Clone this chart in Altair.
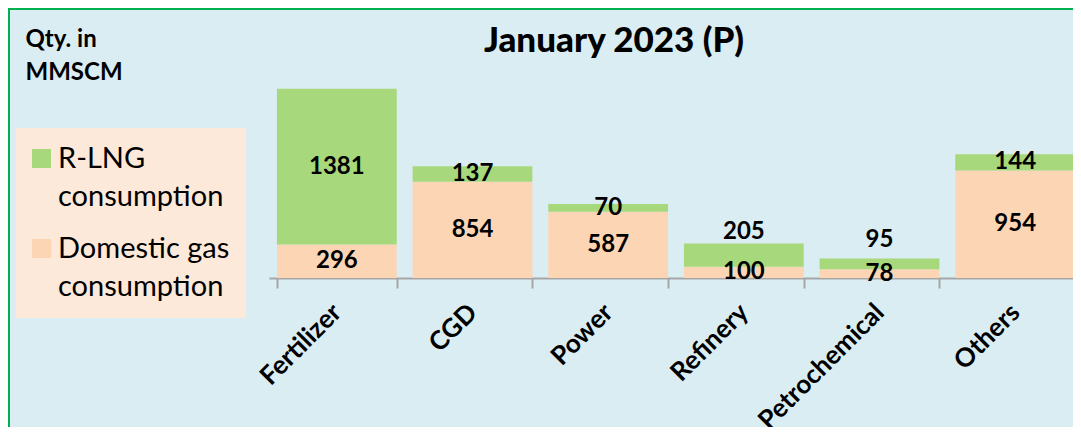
import json
import altair as alt
import pandas as pd

# ---- data ----
categories = ["Fertilizer", "CGD", "Power", "Refinery", "Petrochemical", "Others"]
domestic_gas = [296, 854, 587, 100, 78, 954]
r_lng = [1381, 137, 70, 205, 95, 144]
series_names = ["Domestic gas consumption", "R-LNG consumption"]
legend_order = ["R-LNG consumption", "Domestic gas consumption"]
legend_lines = [["R-LNG", "consumption"], ["Domestic gas", "consumption"]]
chart_title = "January 2023 (P)"
unit_lines = ["Qty. in", "MMSCM"]

# ---- styles ----
GREEN = "#A8D87C"
PEACH = "#FCD5B5"
BG = "#DAEDF3"
LEG_BG = "#FDE9D9"
BORDER = "#00B050"
AXIS = "#A6A6A6"
FONT = "Lato"

W, H = 804, 203
PAD_L, PAD_T, PAD_B = 261, 67, 149

rows = []
for cat, d, r in zip(categories, domestic_gas, r_lng):
    rows.append({"category": cat, "series": series_names[0], "value": d, "order": 0})
    rows.append({"category": cat, "series": series_names[1], "value": r, "order": 1})
df = pd.DataFrame(rows)

label_expr = " : ".join(
    [f"datum.label == {json.dumps(n)} ? {json.dumps(l)}" for n, l in zip(legend_order, legend_lines)]
    + [json.dumps(legend_lines[-1])]
)

x_scale = alt.Scale(range=[0, 814], paddingInner=0.117, paddingOuter=0.0585)
y_scale = alt.Scale(domain=[0, 1800], nice=False)

x_axis = alt.Axis(
    title=None,
    labelAngle=-45,
    labelFont=FONT,
    labelFontSize=26,
    labelFontWeight="bold",
    labelColor="black",
    labelBaseline="middle",
    labelPadding=20,
    domainColor=AXIS,
    domainWidth=2,
    tickColor=AXIS,
    tickWidth=2,
    tickSize=10,
    tickBand="extent",
)
y_axis = alt.Axis(
    title=unit_lines,
    titleAngle=0,
    titleAlign="left",
    titleBaseline="top",
    titleX=-244,
    titleY=-48,
    titleFont=FONT,
    titleFontSize=24,
    titleFontWeight="bold",
    titleColor="black",
    titleLineHeight=33,
    labels=False,
    ticks=False,
    domain=False,
    grid=False,
)

base = alt.Chart(df).transform_stack(
    stack="value", groupby=["category"], as_=["v0", "v1"], sort=[alt.SortField("order")]
)

bars = base.mark_bar().encode(
    x=alt.X("category:N", sort=categories, scale=x_scale, axis=x_axis),
    y=alt.Y("v0:Q", scale=y_scale, axis=y_axis),
    y2="v1:Q",
    color=alt.Color(
        "series:N",
        scale=alt.Scale(domain=legend_order, range=[GREEN, PEACH]),
        legend=alt.Legend(
            title=None,
            orient="none",
            legendX=-253,
            legendY=53,
            fillColor=LEG_BG,
            padding=16,
            symbolType="square",
            symbolSize=361,
            symbolStrokeWidth=0,
            symbolOffset=-5,
            labelFont=FONT,
            labelFontSize=29,
            labelColor="black",
            labelBaseline="middle",
            labelOffset=2,
            labelLimit=400,
            rowPadding=22,
            labelExpr=label_expr,
        ),
    ),
)

labels = base.transform_calculate(
    label_y="datum.series == 'R-LNG consumption' && datum.category == 'Refinery' ? datum.v1 + 105 : "
    "datum.series == 'R-LNG consumption' && datum.category == 'Petrochemical' ? datum.v1 + 165 : "
    "(datum.v0 + datum.v1) / 2"
).mark_text(font=FONT, fontSize=24, fontWeight="bold", color="black", baseline="middle").encode(
    x=alt.X("category:N", sort=categories, scale=x_scale, axis=x_axis),
    y=alt.Y("label_y:Q", scale=y_scale, axis=y_axis),
    text=alt.Text("value:Q"),
)

frame_src = alt.Chart(pd.DataFrame({"k": [0]}))
left_border = frame_src.mark_rule(color=BORDER, strokeWidth=2).encode(
    x=alt.value(-260), y=alt.value(-67), y2=alt.value(H + PAD_B)
)
top_border = frame_src.mark_rule(color=BORDER, strokeWidth=2).encode(
    x=alt.value(-261), x2=alt.value(W), y=alt.value(-66)
)

chart = (
    alt.layer(bars, labels, left_border, top_border)
    .properties(
        width=W,
        height=H,
        background=BG,
        autosize=alt.AutoSizeParams(type="none"),
        padding={"left": PAD_L, "top": PAD_T, "right": 0, "bottom": PAD_B},
        title=alt.Title(
            chart_title,
            font=FONT,
            fontSize=35,
            fontWeight=900,
            color="black",
            anchor="middle",
            frame="group",
            baseline="alphabetic",
            offset=0,
            dx=-57,
            dy=80,
        ),
    )
    .configure(style={"guide-label": {"lineHeight": 38}})
    .configure_view(strokeWidth=0)
)

chart.save("out.html", embed_options={"renderer": "svg", "actions": False})
